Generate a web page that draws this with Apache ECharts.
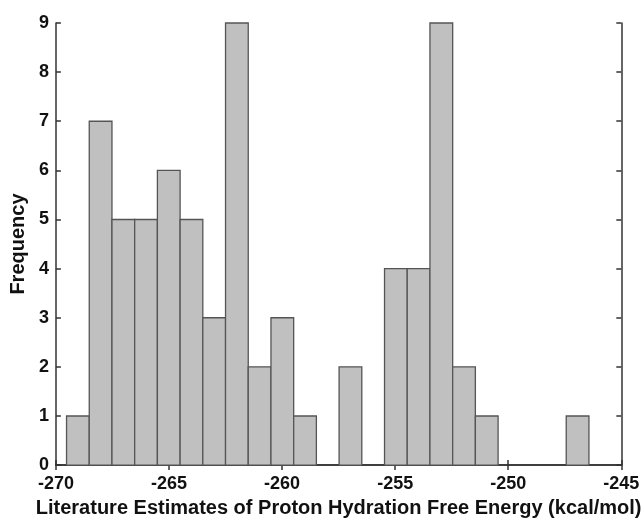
<!DOCTYPE html>
<html>
<head>
<meta charset="utf-8">
<script src="https://cdn.jsdelivr.net/npm/echarts@6/dist/echarts.min.js"></script>
<style>
html,body{margin:0;padding:0;background:#fff;}
#chart{width:644px;height:523px;}
</style>
</head>
<body>
<div id="chart"></div>
<script>
// Histogram data
const binStart = -269.53;   // left edge of first bin (kcal/mol)
const binWidth = 1.0043;    // bin width (kcal/mol)
const counts = [1, 7, 5, 5, 6, 5, 3, 9, 2, 3, 1, 0, 2, 0, 4, 4, 9, 2, 1, 0, 0, 0, 1];
const xTicks = [-270, -265, -260, -255, -250, -245];
const yTicks = [0, 1, 2, 3, 4, 5, 6, 7, 8, 9];
const xTitle = 'Literature Estimates of Proton Hydration Free Energy (kcal/mol)';
const yTitle = 'Frequency';

const bins = counts.map((c, i) => [binStart + i * binWidth, binStart + (i + 1) * binWidth, c]);

const FONT = 'Liberation Sans, Arial, sans-serif';
const axisColor = '#333';
const labelStyle = {fontFamily: FONT, fontWeight: 'bold', fontSize: 18, color: '#111'};
const titleStyle = {fontFamily: FONT, fontWeight: 'bold', fontSize: 20, color: '#111'};

const chart = echarts.init(document.getElementById('chart'), null, {renderer: 'canvas'});
chart.setOption({
  backgroundColor: '#fff',
  animation: false,
  grid: {left: 55, right: 21, top: 23, bottom: 51, containLabel: false},
  xAxis: [{
    type: 'value', min: xTicks[0], max: xTicks[xTicks.length - 1], interval: 5,
    position: 'bottom',
    name: xTitle, nameLocation: 'middle', nameGap: 30,
    nameTextStyle: titleStyle,
    axisLine: {show: true, lineStyle: {color: axisColor, width: 1.5}},
    axisTick: {show: true, inside: true, length: 5, lineStyle: {color: axisColor, width: 1.5}},
    axisLabel: Object.assign({margin: 10}, labelStyle),
    splitLine: {show: false}
  }, {
    type: 'value', min: xTicks[0], max: xTicks[xTicks.length - 1], interval: 5,
    position: 'top',
    axisLine: {show: true, lineStyle: {color: axisColor, width: 1.5}},
    axisTick: {show: true, inside: true, length: 5, lineStyle: {color: axisColor, width: 1.5}},
    axisLabel: {show: false},
    splitLine: {show: false}
  }],
  yAxis: [{
    type: 'value', min: yTicks[0], max: yTicks[yTicks.length - 1], interval: 1,
    position: 'left',
    name: yTitle, nameLocation: 'middle', nameGap: 22, nameRotate: 90,
    nameTextStyle: titleStyle,
    axisLine: {show: true, lineStyle: {color: axisColor, width: 1.5}},
    axisTick: {show: true, inside: true, length: 5, lineStyle: {color: axisColor, width: 1.5}},
    axisLabel: Object.assign({margin: 7}, labelStyle),
    splitLine: {show: false}
  }, {
    type: 'value', min: yTicks[0], max: yTicks[yTicks.length - 1], interval: 1,
    position: 'right',
    axisLine: {show: true, lineStyle: {color: axisColor, width: 1.5}},
    axisTick: {show: true, inside: true, length: 5, lineStyle: {color: axisColor, width: 1.5}},
    axisLabel: {show: false},
    splitLine: {show: false}
  }],
  series: [{
    type: 'custom',
    xAxisIndex: 0, yAxisIndex: 0,
    data: bins,
    z: 10,
    renderItem: function (params, api) {
      const c = api.value(2);
      if (!c) return null;
      const p0 = api.coord([api.value(0), 0]);
      const p1 = api.coord([api.value(1), c]);
      return {
        type: 'rect',
        shape: {x: p0[0], y: p1[1], width: p1[0] - p0[0], height: p0[1] - p1[1]},
        style: {fill: '#c0c0c0', stroke: '#555', lineWidth: 1.3}
      };
    }
  }]
});
</script>
</body>
</html>
